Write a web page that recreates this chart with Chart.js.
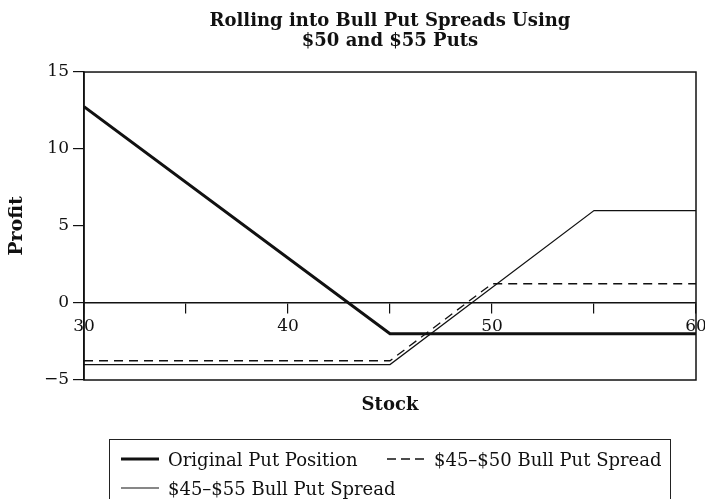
<!DOCTYPE html>
<html>
<head>
<meta charset="utf-8">
<script src="https://cdn.jsdelivr.net/npm/chart.js@4"></script>
<style>
    html, body { margin: 0; padding: 0; background: #fff; }
    #wrap { position: relative; width: 705px; height: 499px; overflow: hidden; }
    #legend {
        position: absolute; left: 109px; top: 439px; width: 560px; height: 80px;
        border: 1.5px solid #222; font-family: "DejaVu Serif"; font-size: 18px; color: #111;
    }
    .item { position: absolute; display: flex; align-items: center; white-space: nowrap; height: 22px; }
    .item svg { margin-right: 9px; }
</style>
</head>
<body>
<div id="wrap">
    <canvas id="chart" width="705" height="499"></canvas>
    <div id="legend"></div>
</div>
<script>
// --- Data ---
const originalX = [30, 45, 60];
const originalY = [12.75, -2, -2];

const spread50X = [30, 45, 50, 60];
const spread50Y = [-3.75, -3.75, 1.25, 1.25];

const spread55X = [30, 45, 55, 60];
const spread55Y = [-4, -4, 6, 6];

const xTicks = [30, 40, 50, 60];
const yTicks = [-5, 0, 5, 10, 15];

const seriesNames = ['Original Put Position', '$45\u2013$50 Bull Put Spread', '$45\u2013$55 Bull Put Spread'];

const toPoints = (xs, ys) => xs.map((x, i) => ({ x: x, y: ys[i] }));

const serif = 'DejaVu Serif';
const ink = '#111';

// frame around the plot area
const frame = {
    id: 'frame',
    afterDraw(chart) {
        const { ctx, chartArea: a } = chart;
        ctx.save();
        ctx.strokeStyle = ink;
        ctx.lineWidth = 1.5;
        ctx.strokeRect(a.left, a.top, a.right - a.left, a.bottom - a.top);
        ctx.restore();
    }
};

// let the "60" label hang past the plot edge like in the original
const noSidePadding = s => { s.paddingLeft = 0; s.paddingRight = 0; };

new Chart(document.getElementById('chart'), {
    type: 'line',
    data: {
        datasets: [
            { label: seriesNames[0], data: toPoints(originalX, originalY), borderColor: ink, borderWidth: 3 },
            { label: seriesNames[1], data: toPoints(spread50X, spread50Y), borderColor: ink, borderWidth: 1.3, borderDash: [9, 6] },
            { label: seriesNames[2], data: toPoints(spread55X, spread55Y), borderColor: ink, borderWidth: 1.2 }
        ]
    },
    options: {
        responsive: false,
        animation: false,
        devicePixelRatio: 1,
        elements: { point: { radius: 0 }, line: { tension: 0 } },
        layout: { padding: { left: 0, right: 9, top: 0, bottom: 74 } },
        plugins: {
            legend: { display: false },
            tooltip: { enabled: false },
            title: {
                display: true,
                fullSize: false,
                text: ['Rolling into Bull Put Spreads Using', '$50 and $55 Puts'],
                color: ink,
                font: { family: serif, size: 18, weight: 'bold', lineHeight: 1.12 },
                padding: { top: 11, bottom: 20.7 }
            }
        },
        scales: {
            x: {
                type: 'linear', min: 30, max: 60,
                position: { y: 0 },
                ticks: {
                    stepSize: 5, autoSkip: false, maxRotation: 0, padding: 3,
                    color: ink, font: { family: serif, size: 17 },
                    callback: v => xTicks.includes(v) ? String(v) : ''
                },
                grid: { drawOnChartArea: false, drawTicks: true, tickLength: 10, color: ink, lineWidth: 1.2 },
                border: { display: true, color: ink, width: 1.5 },
                afterFit: noSidePadding
            },
            x2: {
                type: 'linear', min: 30, max: 60, position: 'bottom',
                ticks: { display: false },
                grid: { display: false },
                border: { display: false },
                title: { display: true, text: 'Stock', color: ink, font: { family: serif, size: 18, weight: 'bold' }, padding: { top: 4, bottom: 9 } },
                afterFit: s => { s.height = 45; noSidePadding(s); }
            },
            y: {
                type: 'linear', min: -5, max: 15,
                ticks: {
                    stepSize: 5, padding: 4, color: ink, font: { family: serif, size: 17 },
                    callback: v => yTicks.includes(v) ? (v < 0 ? '\u2212' + Math.abs(v) : String(v)) : ''
                },
                grid: { drawOnChartArea: false, drawTicks: true, tickLength: 11, color: ink, lineWidth: 1.2 },
                border: { display: true, color: ink, width: 1.5 },
                title: { display: true, text: 'Profit', color: ink, font: { family: serif, size: 19, weight: 'bold' }, padding: { top: 6, bottom: 0 } },
                afterFit: s => { s.width = 84; }
            }
        }
    },
    plugins: [frame]
});

// --- Legend (HTML, boxed below the chart) ---
const legendItems = [
    { name: seriesNames[0], left: 11, top: 8, width: 3, dash: '' },
    { name: seriesNames[1], left: 277, top: 8, width: 1.3, dash: '9,5' },
    { name: seriesNames[2], left: 11, top: 37, width: 1.2, dash: '' }
];
document.getElementById('legend').innerHTML = legendItems.map(it => `
    <div class="item" style="left:${it.left}px;top:${it.top}px">
        <svg width="38" height="10"><line x1="0" y1="5" x2="38" y2="5" stroke="${ink}" stroke-width="${it.width}" ${it.dash ? `stroke-dasharray="${it.dash}"` : ''}/></svg>
        <span>${it.name}</span>
    </div>
`).join('');
</script>
</body>
</html>
